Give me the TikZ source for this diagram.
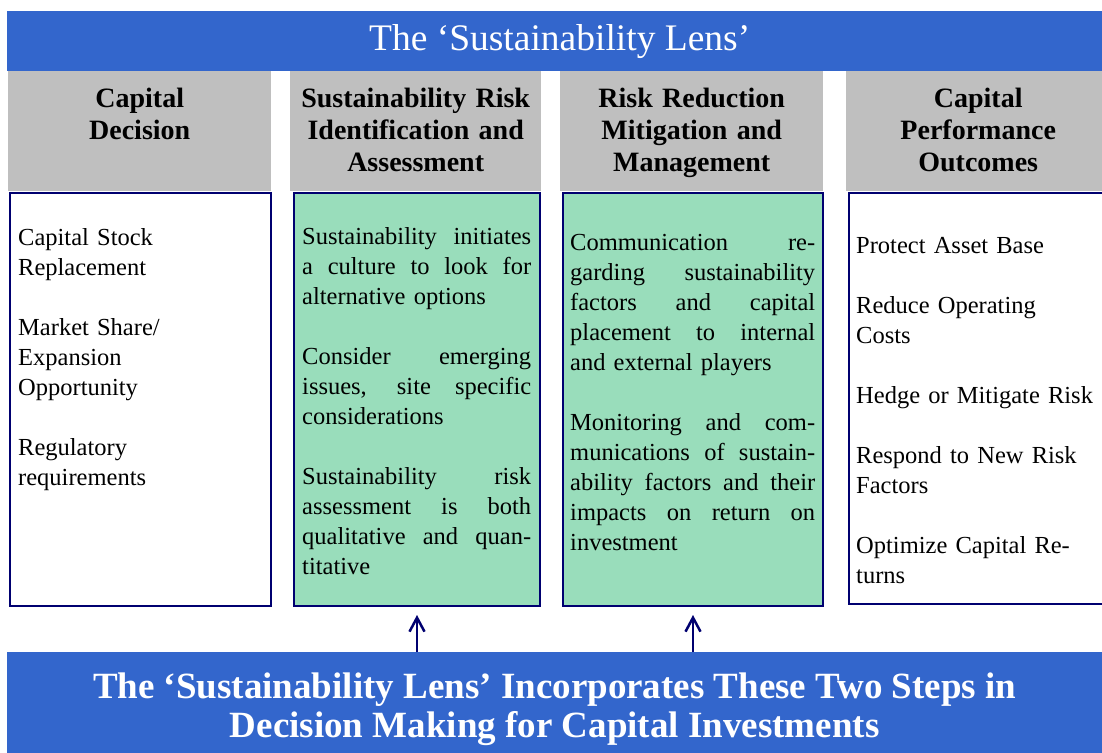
\documentclass[tikz,border=0pt]{standalone}
\usepackage{fontspec}
\setmainfont{Liberation Serif}
\usetikzlibrary{arrows.meta,positioning}
\definecolor{lensblue}{RGB}{51,102,204}
\definecolor{hdrgray}{RGB}{191,191,191}
\definecolor{stepgreen}{RGB}{153,221,187}
\definecolor{navy}{RGB}{0,0,112}
\newcommand{\colw}{200pt}
\newcommand{\jl}[1]{\leavevmode\hbox to \colw{\spaceskip=0pt plus 1fill\relax #1}}
\tikzset{
  banner/.style={fill=lensblue,inner sep=0pt,anchor=north west,text=white,align=center},
  hdrbox/.style={fill=hdrgray,inner sep=0pt,anchor=north west,minimum height=120pt},
  hdrtext/.style={anchor=base,inner sep=0pt,align=center,font=\bfseries\fontsize{28}{32}\selectfont},
  colbox/.style={draw=navy,line width=2pt,inner sep=0pt,anchor=north west},
  stepbox/.style={colbox,fill=stepgreen},
  coltext/.style={anchor=base west,inner sep=0pt,align=left,text width=#1,
    execute at begin node={\renewcommand{\colw}{#1}},font=\fontsize{24.5}{30}\selectfont},
  lensarrow/.style={-{Straight Barb[length=14pt,width=15pt,line width=2.5pt]},draw=navy,line width=2.8pt}
}
\begin{document}
\begin{tikzpicture}[x=1pt,y=1pt]
  \useasboundingbox (0,0) rectangle (1102,-752);
  % banners
  \node[banner,minimum width=1095pt,minimum height=60pt,font=\fontsize{37.5}{40}\selectfont]
    (lens) at (7,-11) {\hspace*{10pt}The `Sustainability Lens'};
  \node[banner,minimum width=1095pt,minimum height=115pt,font=\bfseries\fontsize{37}{39}\selectfont]
    (incorp) at (7,-652) {The `Sustainability Lens' Incorporates These Two Steps in\\Decision Making for Capital Investments};
  % column heads
  \node[hdrbox,minimum width=263pt] (decHd) at (8,-71) {};
  \node[hdrbox,minimum width=251pt] (identHd) at (290,-71) {};
  \node[hdrbox,minimum width=263pt] (mitigHd) at (560,-71) {};
  \node[hdrbox,minimum width=264pt] (perfHd) at (846,-71) {};
  \node[hdrtext,text width=263pt] at ([yshift=-36pt]decHd.north) {Capital\\Decision};
  \node[hdrtext,text width=251pt] at ([yshift=-36pt]identHd.north) {Sustainability Risk\\Identification and\\Assessment};
  \node[hdrtext,text width=263pt] at ([yshift=-36pt]mitigHd.north) {Risk Reduction\\Mitigation and\\Management};
  \node[hdrtext,text width=264pt] at ([yshift=-36pt]perfHd.north) {Capital\\Performance\\Outcomes};
  % column bodies
  \node[colbox,minimum width=261pt,minimum height=413pt] (dec) at (9,-192) {};
  \node[stepbox,minimum width=246pt,minimum height=413pt] (ident) at (293,-192) {};
  \node[stepbox,minimum width=260pt,minimum height=413pt] (mitig) at (562,-192) {};
  \node[colbox,minimum width=264pt,minimum height=411pt] (perf) at (848,-192) {};
  \node[coltext=240pt] (decTx) at (18,-245)
    {Capital Stock\\Replacement\\[30pt]Market Share/\\Expansion\\Opportunity\\[30pt]Regulatory\\requirements};
  \node[coltext=229pt] (identTx) at (302,-244)
    {\jl{Sustainability initiates}\\\jl{a culture to look for}\\alternative options\\[30pt]%
     \jl{Consider emerging}\\\jl{issues, site specific}\\considerations\\[30pt]%
     \jl{Sustainability risk}\\\jl{assessment is both}\\\jl{qualitative and quan-}\\titative};
  \node[coltext=245pt] (mitigTx) at (570,-250)
    {\jl{Communication re-}\\\jl{garding sustainability}\\\jl{factors and capital}\\\jl{placement to internal}\\and external players\\[30pt]%
     \jl{Monitoring and com-}\\\jl{munications of sustain-}\\\jl{ability factors and their}\\\jl{impacts on return on}\\investment};
  \node[coltext=244pt] (perfTx) at (856,-253)
    {Protect Asset Base\\[30pt]Reduce Operating\\Costs\\[30pt]Hedge or Mitigate Risk\\[30pt]Respond to New Risk\\Factors\\[30pt]Optimize Capital Re-\\turns};
  % the two steps
  \draw[lensarrow] (incorp.north -| ident.south) -- ([yshift=-8pt]ident.south);
  \draw[lensarrow] (incorp.north -| mitig.south) -- ([yshift=-8pt]mitig.south);
\end{tikzpicture}
\end{document}
